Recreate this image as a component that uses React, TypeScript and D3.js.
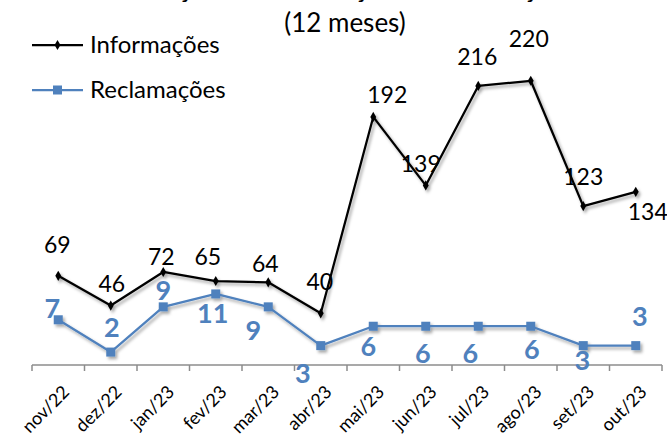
import React from "react";
import * as d3 from "d3";

const categories = ["nov/22","dez/22","jan/23","fev/23","mar/23","abr/23","mai/23","jun/23","jul/23","ago/23","set/23","out/23"];
const informacoes = [69, 46, 72, 65, 64, 40, 192, 139, 216, 220, 123, 134];
const reclamacoes = [7, 2, 9, 11, 9, 3, 6, 6, 6, 6, 3, 3];
const seriesNames = ["Informações", "Reclamações"];
const titleText = "Evolução das Informações e Reclamações";
const subtitleText = "(12 meses)";

// label offsets (layout only), relative to the point
const infoLabelOffsets: [number, number][] = [[-1,-23],[1,-14],[-2,-7],[-8,-16],[-3,-10],[-1,-23],[14,-14],[-5,-13],[-1,-21],[-2,-34],[0,-21],[12,28]];
const reclLabelOffsets: [number, number][] = [[-6,-2],[1,-15],[0,-7],[-3,29],[-15,33],[-18,37],[-5,30],[-3,37],[-8,37],[1,33],[-1,24],[4,-20]];

const W = 667, H = 434;
const BLUE = "#4F81BD";
const FONT = "Lato, 'Open Sans', sans-serif";

export default function App() {
  const x = d3.scaleBand<string>().domain(categories).range([32, 662]).padding(0);
  const yInfo = d3.scaleLinear().domain([0, 250]).range([365, 42]);
  const yRecl = d3.scaleLinear().domain([0, 50]).range([365, 42]);
  const cx = (c: string) => (x(c) as number) + x.bandwidth() / 2;

  const lineInfo = d3.line<number>().x((_, i) => cx(categories[i])).y((d) => yInfo(d));
  const lineRecl = d3.line<number>().x((_, i) => cx(categories[i])).y((d) => yRecl(d));

  const tickXs = categories.map((c) => x(c) as number).concat([x.range()[1]]);
  const diamond = d3.symbol().type(d3.symbolDiamond).size(30)() as string;

  return (
    <svg width={W} height={H} style={{ position: "absolute", left: 0, top: 0, background: "#fff" }} fontFamily={FONT}>
      <defs>
        <filter id="sh" x="-20%" y="-20%" width="140%" height="140%">
          <feDropShadow dx="2" dy="2.5" stdDeviation="1.6" floodColor="#000" floodOpacity="0.35" />
        </filter>
      </defs>
      <rect width={W} height={H} fill="#fff" />
      {/* title (cut off at top, as in the reference) */}
      <text x={345} y={-2} textAnchor="middle" fontSize={25} fontWeight="bold" fill="#000">{titleText}</text>
      <text x={345} y={32} textAnchor="middle" fontSize={26} fill="#000">{subtitleText}</text>

      {/* legend */}
      <g>
        <line x1={32} x2={83} y1={45} y2={45} stroke="#000" strokeWidth={2.25} />
        <path d={diamond} transform="translate(57.5,45)" fill="#000" />
        <text x={90} y={53} fontSize={24} fill="#000">{seriesNames[0]}</text>
        <line x1={32} x2={83} y1={90} y2={90} stroke={BLUE} strokeWidth={2.25} />
        <rect x={53} y={85.5} width={9} height={9} fill={BLUE} />
        <text x={90} y={98} fontSize={24} fill="#000">{seriesNames[1]}</text>
      </g>

      {/* axis */}
      <g stroke="#8c8c8c" strokeWidth={1.5}>
        <line x1={32} x2={662} y1={365} y2={365} />
        {tickXs.map((t, i) => (
          <line key={i} x1={t} x2={t} y1={365} y2={371} />
        ))}
      </g>
      {categories.map((c) => (
        <text key={c} transform={`translate(${cx(c) + 3},384) rotate(-45)`} textAnchor="end" dy="0.72em" fontSize={18} fill="#000">{c}</text>
      ))}

      {/* series */}
      <g filter="url(#sh)">
        <path d={lineRecl(reclamacoes) as string} fill="none" stroke={BLUE} strokeWidth={2.25} strokeLinejoin="round" />
        {reclamacoes.map((v, i) => (
          <rect key={i} x={cx(categories[i]) - 4.5} y={yRecl(v) - 4.5} width={9} height={9} fill={BLUE} />
        ))}
      </g>
      <g filter="url(#sh)">
        <path d={lineInfo(informacoes) as string} fill="none" stroke="#000" strokeWidth={2.25} strokeLinejoin="round" />
        {informacoes.map((v, i) => (
          <path key={i} d={diamond} transform={`translate(${cx(categories[i])},${yInfo(v)})`} fill="#000" />
        ))}
      </g>

      {/* labels */}
      {informacoes.map((v, i) => (
        <text key={i} x={cx(categories[i]) + infoLabelOffsets[i][0]} y={yInfo(v) + infoLabelOffsets[i][1]} textAnchor="middle" fontSize={23} fill="#000">{v}</text>
      ))}
      {reclamacoes.map((v, i) => (
        <text key={i} x={cx(categories[i]) + reclLabelOffsets[i][0]} y={yRecl(v) + reclLabelOffsets[i][1]} textAnchor="middle" fontSize={27} fontWeight="bold" fill={BLUE}>{v}</text>
      ))}
    </svg>
  );
}
